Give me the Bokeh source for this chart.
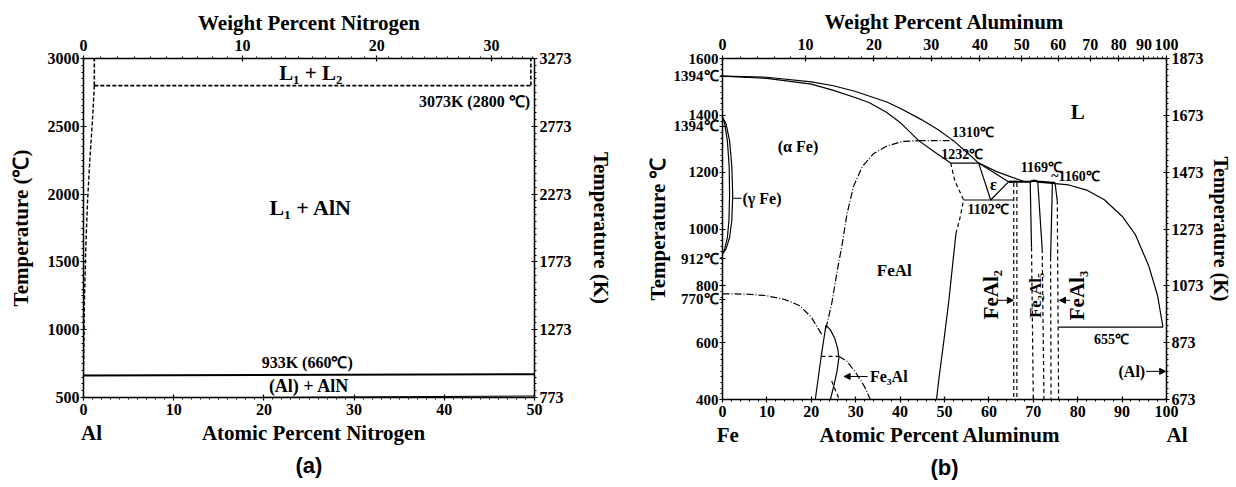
import math
from bokeh.plotting import figure
from bokeh.models import Range1d, LinearAxis, FixedTicker, Label, Arrow, NormalHead
from bokeh.layouts import row
from bokeh.embed import file_html
from bokeh.resources import INLINE

SERIF = "Liberation Serif"
SANS = "Liberation Sans"

# ---------------- (a) Al-N data ----------------
A_AT_TICKS = [0, 10, 20, 30, 40, 50]
A_C_TICKS = [500, 1000, 1500, 2000, 2500, 3000]
A_K_TICKS = [773, 1273, 1773, 2273, 2773, 3273]
A_WT_TICKS = [0, 10, 20, 30]

A_MONO_X = [1.2, 49.6]
A_MONO_Y = [2800, 2800]
A_GAPL_X = [1.2, 1.2]
A_GAPL_Y = [2800, 3000]
A_GAPR_X = [49.6, 49.6]
A_GAPR_Y = [2800, 3000]
A_LIQ_X = [1.2, 1.0, 0.7, 0.45, 0.25, 0.1, 0.0]
A_LIQ_Y = [2800, 2550, 2250, 1950, 1600, 1200, 663]
A_EUT_X = [0, 50]
A_EUT_Y = [663, 672]
A_LOW_X = [20, 50]
A_LOW_Y = [501, 511]

# ---------------- (b) Fe-Al data ----------------
B_AT_TICKS = [0, 10, 20, 30, 40, 50, 60, 70, 80, 90, 100]
B_C_TICKS = [400, 600, 800, 1000, 1200, 1400, 1600]
B_K_TICKS = [673, 873, 1073, 1273, 1473, 1673, 1873]
B_WT_TICKS = [0, 10, 20, 30, 40, 50, 60, 70, 80, 90, 100]
B_EXTRA_C = [1538, 1362, 896, 752]
B_EXTRA_LABELS = ["1394℃", "1394℃", "912℃", "770℃"]

B_LIQ_X = [0, 10, 20, 25, 30, 33, 37, 40, 44.8, 48.5, 52, 55, 57.7, 62, 67.8]
B_LIQ_Y = [1538, 1534, 1518, 1504, 1484, 1468, 1447, 1425, 1385, 1350, 1311, 1270, 1232, 1200, 1168]
B_SOL_X = [0, 10, 20, 25, 30, 33, 37, 40, 44.2, 48, 51.4]
B_SOL_Y = [1538, 1530, 1510, 1488, 1462, 1445, 1410, 1375, 1311, 1268, 1232]
B_TOP_X = [64.4, 69.3, 70.2, 71.0, 74.3, 74.6, 74.9]
B_TOP_Y = [1166, 1167, 1170, 1167, 1162, 1163, 1160]
B_LIQR_X = [74.9, 78, 82, 86, 90, 93, 96, 98, 99.2]
B_LIQR_Y = [1160, 1155, 1137, 1103, 1045, 980, 870, 765, 655]
B_EUT_X = [75.7, 99.2]
B_EUT_Y = [655, 655]
B_EPS_X = [57.7, 60.4, 64.4, 57.7]
B_EPS_Y = [1232, 1102, 1166, 1232]
B_PER_X = [51.4, 57.7]
B_PER_Y = [1232, 1232]
B_EUTD_X = [54.3, 65.5]
B_EUTD_Y = [1102, 1102]
B_FEALD_X = [51.4, 52.3, 54.3, 53.5, 52.6]
B_FEALD_Y = [1232, 1170, 1102, 1040, 986]
B_FEALS_X = [52.6, 52.0, 51.0, 49.8, 48.8, 48.2]
B_FEALS_Y = [986, 900, 750, 600, 480, 400]
B_FEAL2A_X = [65.6, 65.6]
B_FEAL2B_X = [66.3, 66.3]
B_FEAL2_Y = [1162, 400]
B_F25LS_X = [69.3, 69.6]
B_F25LS_Y = [1167, 935]
B_F25LD_X = [69.6, 70.0]
B_F25LD_Y = [935, 400]
B_F25RS_X = [71.0, 72.0]
B_F25RS_Y = [1167, 930]
B_F25RD_X = [72.0, 72.4]
B_F25RD_Y = [930, 400]
B_F3LS_X = [74.3, 73.9]
B_F3LS_Y = [1162, 900]
B_F3LD_X = [73.9, 74.0]
B_F3LD_Y = [900, 400]
B_F3RS_X = [74.9, 75.4]
B_F3RS_Y = [1160, 1100]
B_F3RD_X = [75.4, 75.7]
B_F3RD_Y = [1100, 400]
B_B2_X = [23.3, 24.6, 25.8, 27, 28, 29.5, 31.5, 34, 37, 40.5, 44.2]
B_B2_Y = [650, 737, 850, 950, 1050, 1150, 1220, 1265, 1292, 1308, 1311]
B_1310_X = [44.2, 52]
B_1310_Y = [1311, 1311]
B_CURIE_X = [0, 5, 9.6, 14, 17.3, 20, 22.5]
B_CURIE_Y = [772, 771, 766, 752, 731, 690, 625]
B_D03L_X = [20.9, 21.6, 22.3, 22.9, 23.3]
B_D03L_Y = [400, 480, 560, 620, 662]
B_D03R_X = [23.3, 24.3, 25.3, 26.0, 26.2, 25.8, 25.1, 24.3]
B_D03R_Y = [662, 645, 615, 575, 545, 500, 450, 400]
B_552_X = [22.3, 26.2]
B_552_Y = [552, 552]
B_D03DD_X = [26.2, 28, 30, 32, 33.3]
B_D03DD_Y = [552, 535, 495, 445, 400]
B_D03SD_X = [24.6, 25.5, 26.3]
B_D03SD_Y = [465, 430, 400]
B_GAMO_X = [0, 0.8, 1.6, 2.1, 2.3, 2.1, 1.6, 0.8, 0]
B_GAMI_X = [0, 0.5, 1.1, 1.5, 1.6, 1.45, 1.1, 0.5, 0]
B_GAM_Y = [1394, 1370, 1310, 1220, 1120, 1030, 970, 930, 912]


def wt_to_at(w, m_solute, m_solvent):
    a = w / m_solute
    b = (100 - w) / m_solvent
    return round(100 * a / (a + b), 4)


def style_axis(ax, standoff=2, size="16px"):
    ax.axis_line_color = "black"
    ax.axis_line_width = 1.5
    ax.major_tick_line_color = "black"
    ax.minor_tick_line_color = "black"
    ax.major_tick_line_width = 1.2
    ax.major_tick_in = 3
    ax.major_tick_out = 3
    ax.minor_tick_in = 0
    ax.minor_tick_out = 2
    ax.major_label_text_font = SERIF
    ax.major_label_text_font_style = "bold"
    ax.major_label_text_font_size = size
    ax.major_label_text_color = "black"
    ax.major_label_standoff = standoff


def set_title(ax, text, standoff, size="21px", font=SERIF):
    ax.axis_label = text
    ax.axis_label_text_font = font
    ax.axis_label_text_font_style = "bold"
    ax.axis_label_text_font_size = size
    ax.axis_label_text_color = "black"
    ax.axis_label_standoff = standoff


def text_axis(ticks, labels, title, title_standoff, x_range_name="default"):
    ax = LinearAxis(x_range_name=x_range_name, ticker=FixedTicker(ticks=ticks, minor_ticks=[]),
                    major_label_overrides={t: s for t, s in zip(ticks, labels)})
    ax.axis_line_color = None
    ax.major_tick_line_color = None
    ax.minor_tick_line_color = None
    ax.major_tick_in = 0
    ax.major_tick_out = 0
    ax.major_label_standoff = 3
    ax.major_label_text_font = SERIF
    ax.major_label_text_font_style = "bold"
    ax.major_label_text_font_size = "21px"
    ax.major_label_text_color = "black"
    set_title(ax, title, title_standoff, size="22px", font=SANS)
    return ax


def add_text(p, text, x, y, size, align="center", angle=0.0, font=SERIF):
    p.add_layout(Label(x=x, y=y, text=text, text_font=font, text_font_style="bold",
                       text_font_size=size, text_align=align, text_baseline="middle",
                       angle=angle, text_color="black"))


def add_arrow(p, xs, ys, xe, ye):
    p.add_layout(Arrow(end=NormalHead(size=6, fill_color="black", line_color="black"),
                       x_start=xs, y_start=ys, x_end=xe, y_end=ye,
                       line_color="black", line_width=1))


# ================= figure (a) =================
pa = figure(frame_width=451, frame_height=339, x_range=Range1d(0, 50), y_range=Range1d(500, 3000),
            output_backend="svg", toolbar_location=None,
            min_border_left=83, min_border_right=94, min_border_top=58, min_border_bottom=87)
pa.xgrid.visible = False
pa.ygrid.visible = False
pa.outline_line_color = None
pa.background_fill_color = "white"
pa.border_fill_color = "white"

pa.xaxis.ticker = FixedTicker(ticks=A_AT_TICKS, minor_ticks=list(range(0, 51)))
pa.yaxis.ticker = FixedTicker(ticks=A_C_TICKS, minor_ticks=list(range(500, 3001, 50)))
style_axis(pa.xaxis[0], standoff=3)
style_axis(pa.yaxis[0], standoff=1)
set_title(pa.yaxis[0], "Temperature (℃)", 12)

a_wt_pos = [wt_to_at(w, 14.007, 26.982) for w in A_WT_TICKS]
a_wt_minor = [wt_to_at(w, 14.007, 26.982) for w in range(0, 35)]
top_a = LinearAxis(ticker=FixedTicker(ticks=a_wt_pos, minor_ticks=a_wt_minor),
                   major_label_overrides={pos: str(w) for pos, w in zip(a_wt_pos, A_WT_TICKS)})
style_axis(top_a, standoff=5)
set_title(top_a, "Weight Percent Nitrogen", 2)
pa.add_layout(top_a, "above")

pa.extra_y_ranges = {"K": Range1d(773, 3273)}
right_a = LinearAxis(y_range_name="K", ticker=FixedTicker(ticks=A_K_TICKS, minor_ticks=list(range(773, 3274, 50))))
style_axis(right_a, standoff=2)
set_title(right_a, "Temperature (K)", 14)
pa.add_layout(right_a, "right")

pa.add_layout(text_axis([0.9, 25.5], ["Al", "Atomic Percent Nitrogen"], "(a)", 5), "below")

dash_a = "4 2"
pa.line(A_MONO_X, A_MONO_Y, line_color="black", line_width=1.6, line_dash=dash_a)
pa.line(A_GAPL_X, A_GAPL_Y, line_color="black", line_width=1.6, line_dash=dash_a)
pa.line(A_GAPR_X, A_GAPR_Y, line_color="black", line_width=1.6, line_dash=dash_a)
pa.line(A_LIQ_X, A_LIQ_Y, line_color="black", line_width=1.4, line_dash=dash_a)
pa.line(A_EUT_X, A_EUT_Y, line_color="black", line_width=2)
pa.line(A_LOW_X, A_LOW_Y, line_color="black", line_width=1)

add_text(pa, "L₁ + L₂", 25.2, 2890, "21px")
add_text(pa, "3073K (2800 ℃)", 49.5, 2680, "16px", align="right")
add_text(pa, "L₁ + AlN", 25.2, 1900, "22px")
add_text(pa, "933K (660℃)", 24.8, 756, "16px")
add_text(pa, "(Al) + AlN", 25.0, 582, "18px")

# ================= figure (b) =================
pb = figure(frame_width=444, frame_height=341, x_range=Range1d(0, 100), y_range=Range1d(400, 1600),
            output_backend="svg", toolbar_location=None,
            min_border_left=94, min_border_right=66, min_border_top=56, min_border_bottom=87)
pb.xgrid.visible = False
pb.ygrid.visible = False
pb.outline_line_color = None
pb.background_fill_color = "white"
pb.border_fill_color = "white"

pb.xaxis.ticker = FixedTicker(ticks=B_AT_TICKS, minor_ticks=list(range(0, 101, 2)))
b_left_ticks = B_C_TICKS + B_EXTRA_C
pb.yaxis.ticker = FixedTicker(ticks=b_left_ticks, minor_ticks=list(range(400, 1601, 20)))
pb.yaxis.major_label_overrides = {t: s for t, s in zip(B_EXTRA_C, B_EXTRA_LABELS)}
style_axis(pb.xaxis[0], standoff=3)
style_axis(pb.yaxis[0], standoff=1, size="15px")
set_title(pb.yaxis[0], "Temperature ℃", 1)

b_wt_pos = [wt_to_at(w, 26.982, 55.845) for w in B_WT_TICKS]
b_wt_minor = [wt_to_at(w, 26.982, 55.845) for w in range(0, 101, 2)]
top_b = LinearAxis(ticker=FixedTicker(ticks=b_wt_pos, minor_ticks=b_wt_minor),
                   major_label_overrides={pos: str(w) for pos, w in zip(b_wt_pos, B_WT_TICKS)})
style_axis(top_b, standoff=6)
set_title(top_b, "Weight Percent Aluminum", 2)
pb.add_layout(top_b, "above")

pb.extra_y_ranges = {"K": Range1d(673, 1873)}
right_b = LinearAxis(y_range_name="K", ticker=FixedTicker(ticks=B_K_TICKS, minor_ticks=list(range(673, 1874, 20))))
style_axis(right_b, standoff=2)
set_title(right_b, "Temperature (K)", 3, size="20px")
pb.add_layout(right_b, "right")

pb.add_layout(text_axis([1.2, 49.0, 100.0], ["Fe", "Atomic Percent Aluminum", "\u2003Al"], "(b)", 5), "below")

lw = 1.2
dsh = "4 3"
dd = "7 2 1 2"
solid_sets = [(B_LIQ_X, B_LIQ_Y), (B_SOL_X, B_SOL_Y), (B_LIQR_X, B_LIQR_Y), (B_EUT_X, B_EUT_Y),
              (B_EPS_X, B_EPS_Y), (B_PER_X, B_PER_Y), (B_EUTD_X, B_EUTD_Y), (B_FEALS_X, B_FEALS_Y),
              (B_F25LS_X, B_F25LS_Y), (B_F25RS_X, B_F25RS_Y), (B_F3LS_X, B_F3LS_Y), (B_F3RS_X, B_F3RS_Y),
              (B_D03L_X, B_D03L_Y), (B_D03R_X, B_D03R_Y), (B_GAMO_X, B_GAM_Y), (B_GAMI_X, B_GAM_Y)]
for xs, ys in solid_sets:
    pb.line(xs, ys, line_color="black", line_width=lw)
pb.line(B_TOP_X, B_TOP_Y, line_color="black", line_width=2.2)

dashed_sets = [(B_FEALD_X, B_FEALD_Y), (B_FEAL2A_X, B_FEAL2_Y), (B_FEAL2B_X, B_FEAL2_Y),
               (B_F25LD_X, B_F25LD_Y), (B_F25RD_X, B_F25RD_Y), (B_F3LD_X, B_F3LD_Y), (B_F3RD_X, B_F3RD_Y),
               (B_552_X, B_552_Y), (B_D03SD_X, B_D03SD_Y)]
for xs, ys in dashed_sets:
    pb.line(xs, ys, line_color="black", line_width=lw, line_dash=dsh)

dd_sets = [(B_B2_X, B_B2_Y), (B_1310_X, B_1310_Y), (B_CURIE_X, B_CURIE_Y), (B_D03DD_X, B_D03DD_Y)]
for xs, ys in dd_sets:
    pb.line(xs, ys, line_color="black", line_width=lw, line_dash=dd)

pb.line([2.2, 4.3], [1108, 1108], line_color="black", line_width=1)

add_text(pb, "L", 80, 1410, "21px")
add_text(pb, "(α Fe)", 17.0, 1290, "16px")
add_text(pb, "(γ Fe)", 4.5, 1108, "16px", align="left")
add_text(pb, "1310℃", 56.4, 1340, "14px")
add_text(pb, "1232℃", 54.0, 1262, "14px")
add_text(pb, "ε", 61.0, 1158, "16px")
add_text(pb, "1102℃", 59.8, 1070, "14px")
add_text(pb, "1169℃", 71.8, 1218, "14px")
add_text(pb, "~1160℃", 79.5, 1184, "14px")
add_text(pb, "FeAl", 38.7, 853, "17px")
add_text(pb, "655℃", 87.6, 612, "14px")
add_text(pb, "Fe₃Al", 33.2, 481, "16px", align="left")
add_arrow(pb, 32.7, 481, 27.4, 481)
add_text(pb, "(Al)", 95.2, 499, "16px", align="right")
add_arrow(pb, 95.4, 499, 99.8, 499)
add_text(pb, "FeAl₂", 60.4, 769, "21px", angle=math.pi / 2)
add_arrow(pb, 61.9, 749, 65.5, 749)
add_text(pb, "Fe₂Al₅", 70.6, 766, "17px", angle=math.pi / 2)
add_text(pb, "FeAl₃", 79.9, 766, "21px", angle=math.pi / 2)
add_arrow(pb, 78.3, 749, 75.9, 749)

layout = row(pa, pb)
open("out.html", "w").write(file_html(layout, INLINE))
